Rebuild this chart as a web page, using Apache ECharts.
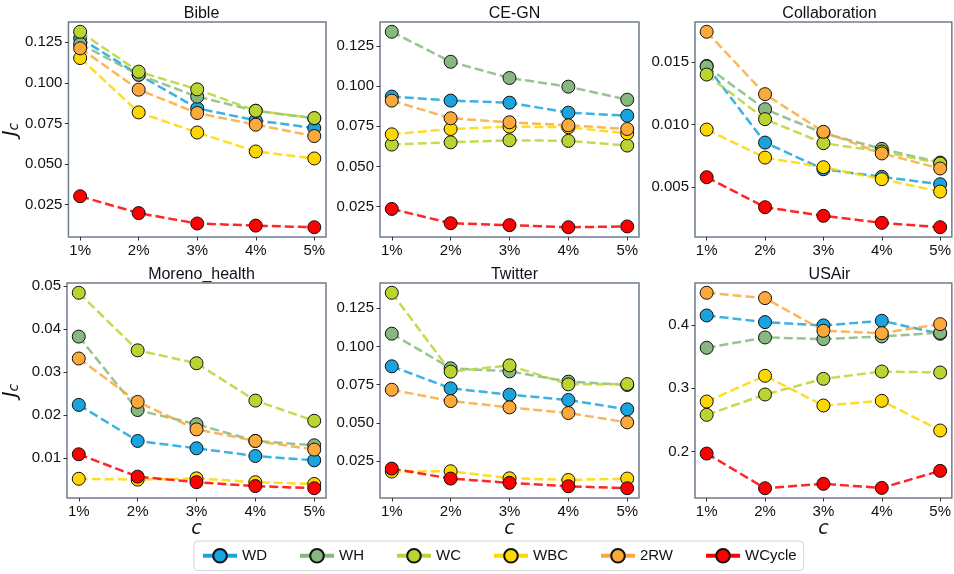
<!DOCTYPE html>
<html>
<head>
<meta charset="utf-8">
<script src="https://cdn.jsdelivr.net/npm/echarts@6/dist/echarts.min.js"></script>
<style>
  html, body { margin: 0; padding: 0; background: #fff; }
  #chart { width: 954px; height: 574px; }
</style>
</head>
<body>
<div id="chart"></div>
<script>
// Sampling ratio c on the x axis
const categories = ['1%', '2%', '3%', '4%', '5%'];
// Ranking methods, in drawing and legend order
const methods = ['WD', 'WH', 'WC', 'WBC', '2RW', 'WCycle'];
const networks = ['Bible', 'CE-GN', 'Collaboration', 'Moreno_health', 'Twitter', 'USAir'];

// J_c per network; one row per method (WD, WH, WC, WBC, 2RW, WCycle)
const bible = [
  [0.1275, 0.1050, 0.0843, 0.0769, 0.0721],
  [0.1240, 0.1050, 0.0915, 0.0828, 0.0781],
  [0.1315, 0.1069, 0.0960, 0.0828, 0.0783],
  [0.1153, 0.0818, 0.0694, 0.0577, 0.0534],
  [0.1213, 0.0958, 0.0814, 0.0742, 0.0672],
  [0.0301, 0.0197, 0.0133, 0.0120, 0.0110]
];
const ceGN = [
  [0.0935, 0.0910, 0.0897, 0.0835, 0.0816],
  [0.1339, 0.1152, 0.1051, 0.0997, 0.0916],
  [0.0636, 0.0650, 0.0663, 0.0659, 0.0630],
  [0.0700, 0.0733, 0.0748, 0.0744, 0.0706],
  [0.0910, 0.0800, 0.0775, 0.0756, 0.0733],
  [0.0235, 0.0146, 0.0134, 0.0121, 0.0126]
];
const collaboration = [
  [0.01470, 0.00857, 0.00644, 0.00583, 0.00524],
  [0.01465, 0.01124, 0.00932, 0.00807, 0.00697],
  [0.01401, 0.01044, 0.00852, 0.00785, 0.00689],
  [0.00961, 0.00737, 0.00660, 0.00564, 0.00465],
  [0.01743, 0.01244, 0.00943, 0.00770, 0.00650],
  [0.00580, 0.00340, 0.00271, 0.00215, 0.00180]
];
const morenoHealth = [
  [0.0224, 0.0140, 0.0123, 0.0105, 0.0095],
  [0.0383, 0.0212, 0.0179, 0.0140, 0.0130],
  [0.0485, 0.0351, 0.0321, 0.0234, 0.0187],
  [0.0052, 0.0050, 0.0053, 0.0044, 0.0040],
  [0.0332, 0.0231, 0.0167, 0.0140, 0.0120],
  [0.0109, 0.0057, 0.0044, 0.0035, 0.0030]
];
const twitter = [
  [0.0870, 0.0726, 0.0685, 0.0650, 0.0589],
  [0.1083, 0.0857, 0.0837, 0.0770, 0.0748],
  [0.1350, 0.0835, 0.0876, 0.0752, 0.0754],
  [0.0183, 0.0185, 0.0139, 0.0128, 0.0137],
  [0.0717, 0.0643, 0.0602, 0.0565, 0.0504],
  [0.0202, 0.0137, 0.0109, 0.0087, 0.0074]
];
const usAir = [
  [0.4147, 0.4042, 0.3990, 0.4063, 0.3858],
  [0.3637, 0.3800, 0.3774, 0.3816, 0.3874],
  [0.2579, 0.2900, 0.3147, 0.3263, 0.3247],
  [0.2789, 0.3195, 0.2726, 0.2800, 0.2332],
  [0.4505, 0.4421, 0.3905, 0.3868, 0.4010],
  [0.1968, 0.1421, 0.1490, 0.1426, 0.1695]
];
const panelData = [bible, ceGN, collaboration, morenoHealth, twitter, usAir];

// y tick labels per panel
const ticksBible = ['0.025', '0.050', '0.075', '0.100', '0.125'];
const ticksCeGN = ['0.025', '0.050', '0.075', '0.100', '0.125'];
const ticksCollaboration = ['0.005', '0.010', '0.015'];
const ticksMoreno = ['0.01', '0.02', '0.03', '0.04', '0.05'];
const ticksTwitter = ['0.025', '0.050', '0.075', '0.100', '0.125'];
const ticksUsAir = ['0.2', '0.3', '0.4'];
const panelTicks = [ticksBible, ticksCeGN, ticksCollaboration, ticksMoreno, ticksTwitter, ticksUsAir];

// y ranges with a 5% margin around the data
function yRange(rows) {
  const all = rows.flat();
  const lo = Math.min(...all), hi = Math.max(...all);
  const pad = (hi - lo) * 0.05;
  return [lo - pad, hi + pad];
}

const colors = ['#19a4de', '#86b87f', '#bad531', '#ffd700', '#fba93a', '#ff0000'];
const frameColor = '#6e7e8c';
const font = 'Liberation Sans, Arial, sans-serif';
const mathFont = 'DejaVu Sans, sans-serif';

const colLeft = [67, 380, 695];
const rowTop = [22, 283];
const plotW = 259, plotH = 215;

const grids = [], xAxes = [], yAxes = [], titles = [], series = [];
const xTickVals = categories.map((_, i) => i + 1);

networks.forEach((name, p) => {
  const col = p % 3, row = Math.floor(p / 3);
  const left = colLeft[col], top = rowTop[row];
  grids.push({
    left: left, top: top, width: plotW, height: plotH,
    show: true, borderColor: frameColor, borderWidth: 1.5, backgroundColor: 'transparent'
  });
  titles.push({
    text: name, left: left + plotW / 2, top: top - 21, textAlign: 'center',
    textStyle: { fontFamily: font, fontSize: 16, fontWeight: 'normal', color: '#111' }
  });
  xAxes.push({
    type: 'value', gridIndex: p, min: 0.8, max: 5.2,
    axisLine: { show: false },
    splitLine: { show: false },
    axisTick: { show: true, customValues: xTickVals, length: 3.5, lineStyle: { color: '#333', width: 1 } },
    axisLabel: {
      customValues: xTickVals, margin: 6,
      formatter: v => categories[Math.round(v) - 1],
      fontFamily: font, fontSize: 15, color: '#111'
    },
    name: row === 1 ? 'c' : '',
    nameLocation: 'middle', nameGap: 18,
    nameTextStyle: { fontFamily: mathFont, fontStyle: 'italic', fontSize: 19, color: '#111' }
  });
  const [yMin, yMax] = yRange(panelData[p]);
  const tickVals = panelTicks[p].map(Number);
  const tickText = panelTicks[p];
  yAxes.push({
    type: 'value', gridIndex: p, min: yMin, max: yMax,
    axisLine: { show: false },
    splitLine: { show: false },
    axisTick: { show: true, customValues: tickVals, length: 3.5, lineStyle: { color: '#333', width: 1 } },
    axisLabel: {
      customValues: tickVals, margin: 6,
      formatter: v => {
        const k = tickVals.findIndex(t => Math.abs(t - v) < 1e-9);
        return k >= 0 ? tickText[k] : '';
      },
      fontFamily: font, fontSize: 15, color: '#111'
    },
    name: col === 0 ? '{j|J}{c|c}' : '',
    nameLocation: 'middle', nameGap: 46, nameRotate: 90,
    nameTextStyle: {
      rich: {
        j: { fontFamily: mathFont, fontStyle: 'italic', fontSize: 20, color: '#111', lineHeight: 22, verticalAlign: 'bottom' },
        c: { fontFamily: mathFont, fontStyle: 'italic', fontSize: 14, color: '#111', lineHeight: 8, verticalAlign: 'bottom' }
      }
    }
  });
  panelData[p].forEach((vals, m) => {
    series.push({
      name: methods[m], type: 'line', xAxisIndex: p, yAxisIndex: p,
      data: vals.map((v, i) => [i + 1, v]),
      symbol: 'circle', symbolSize: 13,
      itemStyle: { color: colors[m], borderColor: '#111', borderWidth: 1 },
      lineStyle: { color: colors[m], width: 2.5, type: [9, 4], opacity: 0.85 },
      emphasis: { disabled: true },
      z: 2 + m
    });
  });
});

const chart = echarts.init(document.getElementById('chart'), null, { renderer: 'canvas' });
chart.setOption({
  animation: false,
  backgroundColor: '#fff',
  title: titles,
  grid: grids,
  xAxis: xAxes,
  yAxis: yAxes,
  legend: {
    data: methods,
    left: 194, top: 541,
    itemWidth: 34, itemHeight: 17, itemGap: 31,
    padding: [7, 7],
    borderColor: '#d4d4d4', borderWidth: 1, borderRadius: 4,
    textStyle: { fontFamily: font, fontSize: 15, color: '#111' },
    lineStyle: { type: 'solid', width: 4, opacity: 1 }
  },
  series: series
});
</script>
</body>
</html>
